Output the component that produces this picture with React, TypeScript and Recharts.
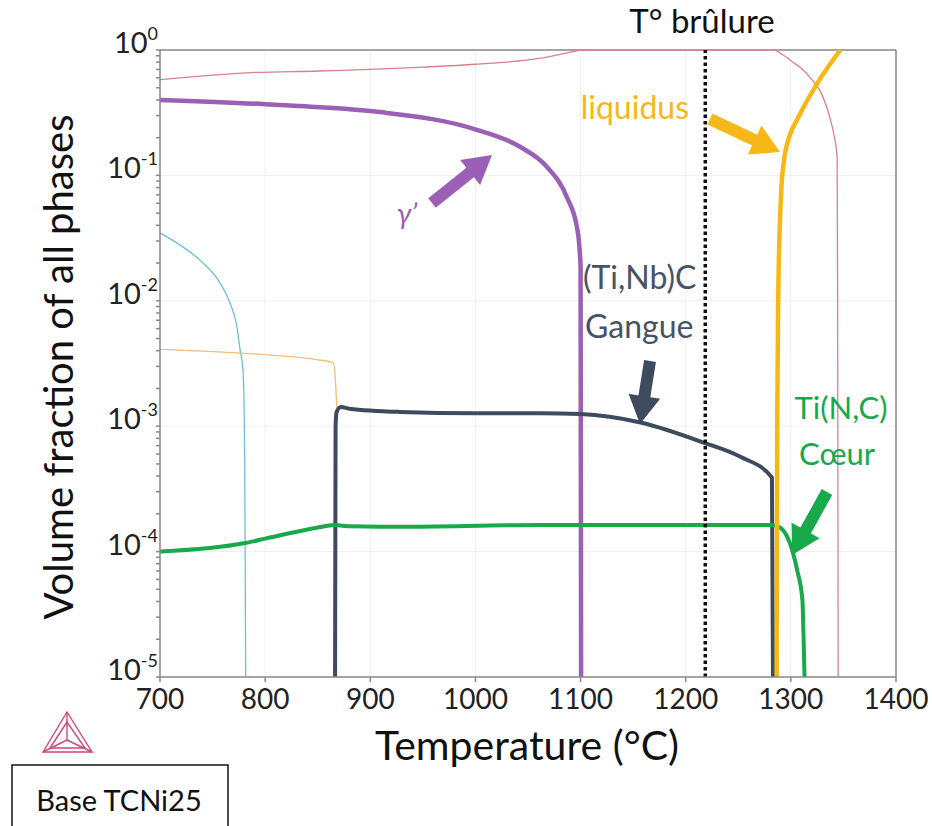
import { LineChart, Line, XAxis, YAxis, ReferenceLine } from "recharts";

const xTicks = [700, 800, 900, 1000, 1100, 1200, 1300, 1400];
const yTicks = [1e-5, 1e-4, 1e-3, 1e-2, 1e-1, 1];
const yExponents = ["-5", "-4", "-3", "-2", "-1", "0"];
const yMinorTicks: number[] = [];
for (let k = -5; k < 0; k++) {
  for (let m = 2; m <= 9; m++) yMinorTicks.push(m * Math.pow(10, k));
}

// liquid / matrix (thin pink)
const matrixT = [700, 786, 852, 950, 1000, 1062, 1085, 1102, 1284, 1292, 1302, 1312, 1320, 1328, 1337, 1341, 1344, 1344.5, 1345];
const matrixV = [0.58, 0.66, 0.68, 0.73, 0.77, 0.86, 0.94, 1, 1, 0.92, 0.8, 0.69, 0.58, 0.47, 0.29, 0.21, 0.14, 0.01, 1e-5];

// gamma prime
const gammaT = [700, 800, 852, 909, 1002, 1042, 1068, 1087, 1097, 1100, 1100.5];
const gammaV = [0.4, 0.37, 0.35, 0.32, 0.23, 0.17, 0.117, 0.067, 0.037, 0.019, 1e-5];

// thin cyan
const cyanT = [700, 719, 738, 757, 766.6, 773.2, 776.1, 778.9, 779.9, 780.6, 781.5];
const cyanV = [0.0348, 0.0279, 0.0211, 0.0139, 0.0096, 0.0062, 0.0041, 0.0028, 0.0016, 5e-4, 1e-5];

// thin orange
const orangeT = [700, 802, 849, 865, 867, 868, 869];
const orangeV = [0.0041, 0.0037, 0.0034, 0.0032, 0.0022, 0.0015, 0.00135];

// (Ti,Nb)C gangue
const gangueT = [866.5, 867, 868, 872, 880, 928, 1000, 1062, 1100, 1157, 1217, 1252, 1282, 1283];
const gangueV = [1e-5, 1e-3, 0.0013, 0.00142, 0.00138, 0.0013, 0.00127, 0.00127, 0.00125, 0.00107, 0.00074, 0.00057, 0.00039, 1e-5];

// Ti(N,C) coeur
const coeurT = [700, 781, 802, 849, 866, 881, 928, 1030, 1062, 1282, 1290, 1299, 1306, 1311, 1312, 1313];
const coeurV = [1e-4, 1.17e-4, 1.28e-4, 1.55e-4, 1.63e-4, 1.59e-4, 1.58e-4, 1.62e-4, 1.63e-4, 1.63e-4, 1.55e-4, 1.17e-4, 7.1e-5, 4.1e-5, 2.2e-5, 1e-5];

// liquidus
const liquidT = [1286.5, 1287, 1288, 1289.5, 1291.2, 1293.3, 1296, 1299, 1307, 1325, 1347];
const liquidV = [1e-5, 1e-3, 0.0102, 0.04, 0.085, 0.13, 0.172, 0.21, 0.29, 0.54, 1];

const burnT = 1218.6;

const zip = (t: number[], v: number[]) => t.map((x, i) => ({ t: x, v: v[i] }));

const FONT = "Lato, 'Open Sans', sans-serif";

const YTick = (props: any) => {
  const { x, y, payload } = props;
  const idx = yTicks.indexOf(payload.value);
  if (idx < 0) return <g />;
  return (
    <text x={x + 4} y={y + 3} textAnchor="end" fontSize={29} fontFamily={FONT} fill="#222">
      10
      <tspan dy={-13} fontSize={18}>
        {yExponents[idx]}
      </tspan>
    </text>
  );
};

const XTick = (props: any) => {
  const { x, y, payload } = props;
  return (
    <text x={x} y={y + 25} textAnchor="middle" fontSize={28} fontFamily={FONT} fill="#222">
      {payload.value}
    </text>
  );
};

// block arrow polygon, tail -> tip
const arrow = (x1: number, y1: number, x2: number, y2: number, shaft: number, head: number, headLen: number) => {
  const dx = x2 - x1;
  const dy = y2 - y1;
  const len = Math.sqrt(dx * dx + dy * dy);
  const ux = dx / len;
  const uy = dy / len;
  const px = -uy;
  const py = ux;
  const bx = x2 - ux * headLen;
  const by = y2 - uy * headLen;
  const pts = [
    [x1 + px * shaft / 2, y1 + py * shaft / 2],
    [bx + px * shaft / 2, by + py * shaft / 2],
    [bx + px * head / 2, by + py * head / 2],
    [x2, y2],
    [bx - px * head / 2, by - py * head / 2],
    [bx - px * shaft / 2, by - py * shaft / 2],
    [x1 - px * shaft / 2, y1 - py * shaft / 2],
  ];
  return pts.map((p) => p.join(",")).join(" ");
};

const gridColor = "#efefef";
const frameColor = "#888";

export default function App() {
  return (
    <div style={{ position: "absolute", left: 0, top: 0, width: 932, height: 826, background: "#fff", overflow: "hidden" }}>
      <LineChart
        width={932}
        height={826}
        margin={{ top: 50, right: 36, bottom: 119, left: 100 }}
      >
        {xTicks.map((t) => (
          <ReferenceLine key={"gx" + t} x={t} stroke={gridColor} strokeWidth={1} />
        ))}
        {yTicks.map((t) => (
          <ReferenceLine key={"gy" + t} y={t} stroke={gridColor} strokeWidth={1} />
        ))}
        <XAxis
          type="number"
          dataKey="t"
          domain={[700, 1400]}
          ticks={xTicks}
          height={30}
          allowDataOverflow
          stroke={frameColor}
          strokeWidth={1.5}
          tickSize={5}
          tick={<XTick />}
        />
        <YAxis
          type="number"
          dataKey="v"
          scale="log"
          domain={[1e-5, 1]}
          ticks={[...yTicks, ...yMinorTicks].sort((a, b) => a - b)}
          width={60}
          allowDataOverflow
          stroke={frameColor}
          strokeWidth={1.5}
          tickSize={4}
          tick={<YTick />}
          interval={0}
        />
        <ReferenceLine y={1} stroke={frameColor} strokeWidth={1.5} />
        <ReferenceLine x={1400} stroke={frameColor} strokeWidth={1.5} />
        <Line data={zip(matrixT, matrixV)} dataKey="v" type="monotone" stroke="#d9808f" strokeWidth={1.3} dot={false} isAnimationActive={false} />
        <Line data={zip(cyanT, cyanV)} dataKey="v" type="monotone" stroke="#6fbfd8" strokeWidth={1.3} dot={false} isAnimationActive={false} />
        <Line data={zip(orangeT, orangeV)} dataKey="v" type="monotone" stroke="#f3bd74" strokeWidth={1.3} dot={false} isAnimationActive={false} />
        <Line data={zip(gammaT, gammaV)} dataKey="v" type="monotone" stroke="#9b5fb5" strokeWidth={4.5} dot={false} isAnimationActive={false} />
        <Line data={zip(gangueT, gangueV)} dataKey="v" type="monotone" stroke="#3e4a5e" strokeWidth={4} dot={false} isAnimationActive={false} />
        <Line data={zip(coeurT, coeurV)} dataKey="v" type="monotone" stroke="#18a94b" strokeWidth={4} dot={false} isAnimationActive={false} />
        <Line data={zip(liquidT, liquidV)} dataKey="v" type="monotone" stroke="#f5b816" strokeWidth={4.5} dot={false} isAnimationActive={false} />
        <ReferenceLine x={burnT} stroke="#111" strokeWidth={3.5} strokeDasharray="3.5 3" />
      </LineChart>
      <svg width={932} height={826} style={{ position: "absolute", left: 0, top: 0, pointerEvents: "none" }} fontFamily={FONT}>
        <text x={58} y={367} transform="rotate(-90 58 367)" textAnchor="middle" dominantBaseline="central" fontSize={40} fill="#111">
          Volume fraction of all phases
        </text>
        <text x={527} y={760} textAnchor="middle" fontSize={41} fill="#111">
          Temperature (°C)
        </text>
        <text x={702} y={33} textAnchor="middle" fontSize={33} fill="#111">
          T° brûlure
        </text>
        <text x={689} y={119} textAnchor="end" fontSize={32} fill="#f5b816">
          liquidus
        </text>
        <polygon points={arrow(710, 119, 780, 152, 12, 32, 28)} fill="#f5b816" />
        <text x={407} y={224} textAnchor="middle" fontSize={29} fontStyle="italic" fill="#9b5fb5">
          γ’
        </text>
        <polygon points={arrow(432, 203, 492, 155, 12, 32, 28)} fill="#9b5fb5" />
        <text x={583} y={289} fontSize={32} fill="#465366">
          (Ti,Nb)C
        </text>
        <text x={585} y={338} fontSize={32} fill="#465366">
          Gangue
        </text>
        <polygon points={arrow(650, 361, 640, 424, 12, 32, 28)} fill="#3e4a5e" />
        <text x={841} y={419} textAnchor="middle" fontSize={31} fill="#18a94b">
          Ti(N,C)
        </text>
        <text x={837} y={465} textAnchor="middle" fontSize={31} fill="#18a94b">
          Cœur
        </text>
        <polygon points={arrow(827, 492, 792, 555, 12, 32, 28)} fill="#18a94b" />
        <g stroke="#cf4679" strokeWidth={1.4} fill="none">
          <polygon points="67,712 43,752 92,752" />
          <polygon points="67,722 50,748 85,748" />
          <line x1={67} y1={712} x2={67} y2={740} />
          <line x1={67} y1={740} x2={43} y2={752} />
          <line x1={67} y1={740} x2={92} y2={752} />
        </g>
        <rect x={12} y={765} width={216} height={80} fill="none" stroke="#111" strokeWidth={1.5} />
        <text x={119} y={811} textAnchor="middle" fontSize={29} fill="#111">
          Base TCNi25
        </text>
      </svg>
    </div>
  );
}
